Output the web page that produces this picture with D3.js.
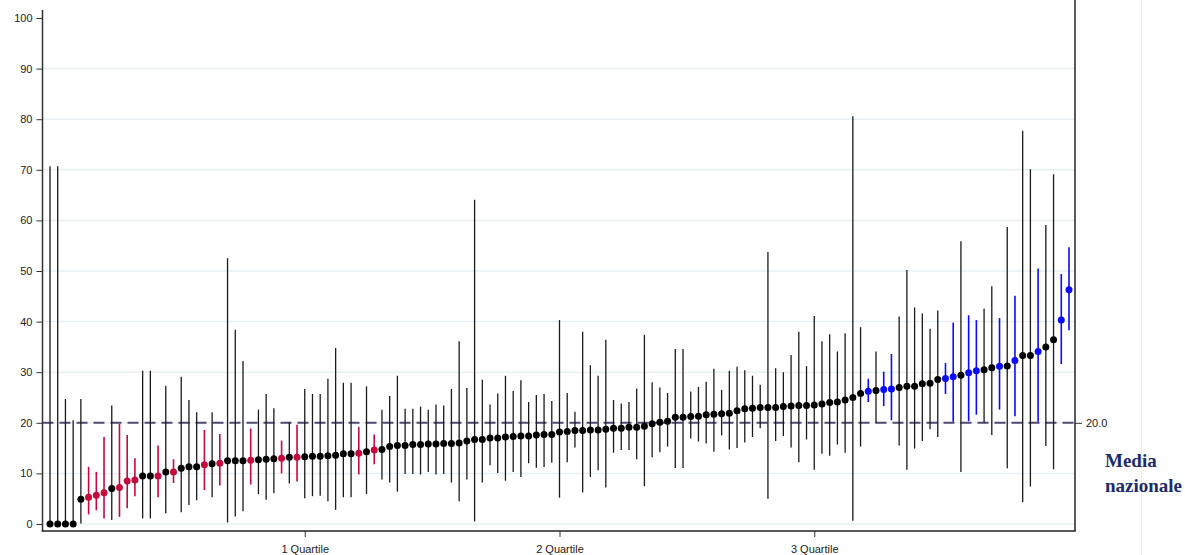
<!DOCTYPE html>
<html><head><meta charset="utf-8">
<script src="https://cdn.jsdelivr.net/npm/d3@7"></script>
<style>body{margin:0;background:#fff}svg{display:block}</style>
</head><body>
<svg id="c" width="1185" height="555"></svg>
<script>
// estimated rates (sorted), lower and upper CI bounds, group: k=non diverso, r=sotto media, b=sopra media
const values = [0,0,0,0,4.9,5.3,5.7,6.2,7.0,7.2,8.5,8.7,9.5,9.5,9.5,10.3,10.3,11.0,11.3,11.3,
 11.7,11.9,12.0,12.5,12.5,12.5,12.6,12.7,12.8,12.9,13.0,13.2,13.2,13.3,13.4,13.4,13.5,13.6,13.9,13.9,
 14.0,14.3,14.6,14.7,15.3,15.5,15.5,15.7,15.7,15.8,15.8,15.9,15.9,16.0,16.4,16.7,16.7,17.0,17.0,17.2,
 17.3,17.4,17.4,17.6,17.7,17.7,18.2,18.3,18.5,18.5,18.6,18.6,18.75,18.9,18.9,19.1,19.1,19.3,19.8,20.1,
 20.3,21.1,21.1,21.25,21.3,21.6,21.7,21.8,21.9,22.4,22.8,22.9,23.0,23.0,23.0,23.2,23.3,23.4,23.4,23.5,
 23.7,24.0,24.1,24.5,25.0,25.8,26.25,26.4,26.6,26.7,27.0,27.2,27.2,27.7,27.8,28.55,28.75,29.1,29.4,29.9,
 30.3,30.5,30.9,31.2,31.25,32.3,33.3,33.3,34.1,35.0,36.4,40.3,46.3];
const lower = [0,0,0,0,0.1,1.9,2.7,1.1,0.8,1.4,3.1,5.5,1.1,1.1,5.3,2.1,8.1,2.3,3.75,4.7,
 6.7,5.3,7.6,0.3,1.5,2.5,7.8,5.9,4.8,6.1,10.0,8.0,8.4,5.1,5.5,5.6,4.5,2.8,5.3,5.3,
 9.8,5.9,11.8,8.8,8.2,6.4,9.9,9.9,9.8,10.3,9.8,9.9,8.2,4.5,8.8,0.5,8.2,11.6,10.1,8.55,
 10.3,9.3,12.0,11.1,11.25,12.1,5.2,12.2,15.1,6.25,9.3,10.6,7.2,14.1,14.6,14.6,12.8,7.5,13.2,14.2,
 15.3,11.05,11.05,16.9,16.3,15.9,14.3,17.5,14.7,15.0,16.1,17.2,18.9,5.0,16.4,17.4,15.1,12.2,16.7,10.7,
 13.9,13.5,15.7,14.1,0.66,15.3,24.1,19.9,23.3,20.5,15.5,10.7,14.9,16.4,18.75,17.2,25.7,20.2,10.3,20.3,
 21.6,20.0,17.6,22.6,11.0,21.3,4.3,7.4,20.2,15.4,10.8,31.6,38.3];
const upper = [70.7,70.7,24.7,20.5,24.7,11.3,10.3,17.2,23.4,19.8,17.6,13.0,30.3,30.3,15.5,27.3,12.8,29.1,24.5,22.1,
 18.6,22.1,17.8,52.5,38.4,32.2,18.9,22.6,25.7,22.9,16.5,20.1,19.6,26.7,25.7,25.7,28.7,34.8,27.9,27.9,
 19.2,27.2,17.7,22.6,25.3,29.3,22.8,22.8,23.2,22.6,23.6,23.4,26.7,36.1,26.9,64.1,28.5,23.6,25.8,29.3,
 26.3,28.4,24.1,25.5,25.7,24.3,40.3,25.9,22.2,38.0,31.4,29.3,36.4,24.5,23.8,24.1,26.8,37.4,28.0,27.0,
 25.9,34.6,34.6,26.2,27.1,28.1,30.7,26.5,30.3,31.1,30.4,29.3,27.5,53.75,30.8,30.0,33.4,38.0,31.2,41.1,
 36.1,37.5,34.1,37.7,80.6,38.9,28.7,34.1,30.1,33.6,41.0,50.2,42.8,41.6,38.6,42.2,31.8,39.8,55.9,41.25,
 40.3,42.6,47.0,40.7,58.7,45.1,77.7,70.1,50.5,59.1,69.1,49.4,54.7];
const groups = [
 "k","k","k","k","k","r","r","r","k","r",
 "r","r","k","k","r","k","r","k","k","k",
 "r","k","r","k","k","k","r","k","k","k",
 "r","k","r","k","k","k","k","k","k","k",
 "r","k","r","k","k","k","k","k","k","k",
 "k","k","k","k","k","k","k","k","k","k",
 "k","k","k","k","k","k","k","k","k","k",
 "k","k","k","k","k","k","k","k","k","k",
 "k","k","k","k","k","k","k","k","k","k",
 "k","k","k","k","k","k","k","k","k","k",
 "k","k","k","k","k","k","b","k","b","b",
 "k","k","k","k","k","k","b","b","k","b",
 "b","k","k","b","k","b","k","k","b","k",
 "k","b","b"];
const yTicks = [0,10,20,30,40,50,60,70,80,90,100];
const xTickPos = [34,67,100];
const xTickLabels = ["1 Quartile","2 Quartile","3 Quartile"];
const nationalMean = 20.0;
const meanLabel = ["Media","nazionale"];

const svg = d3.select("#c");
const n = values.length;
const x = d3.scaleLinear().domain([1, n]).range([50, 1069]);
const y = d3.scaleLinear().domain([0, 100]).range([524, 18]);
const colors = {k:"#000000", r:"#c40a3c", b:"#0a0aff"};
const barColors = {k:"#1a1a1a", r:"#c40a3c", b:"#0a0aff"};
const left = 42.5, right = 1075, bottom = 531;
const font = "'Liberation Sans', Arial, sans-serif";

// faint vertical line at right
svg.append("line").attr("x1",1141.5).attr("x2",1141.5).attr("y1",0).attr("y2",555)
  .attr("stroke","#eceff1").attr("stroke-width",1);

// gridlines
svg.append("g").selectAll("line").data(yTicks.filter(d=>d<100)).join("line")
  .attr("x1",left).attr("x2",right).attr("y1",d=>y(d)).attr("y2",d=>y(d))
  .attr("stroke","#e9eff2").attr("stroke-width",1.5);

// national mean dashed line
svg.append("line").attr("x1",left).attr("x2",right).attr("y1",y(nationalMean)).attr("y2",y(nationalMean))
  .attr("stroke","#524a70").attr("stroke-width",2).attr("stroke-dasharray","11,6");

// error bars
const idx = d3.range(n);
svg.append("g").selectAll("line").data(idx).join("line")
  .attr("x1",i=>x(i+1)).attr("x2",i=>x(i+1))
  .attr("y1",i=>y(lower[i])).attr("y2",i=>y(upper[i]))
  .attr("stroke",i=>barColors[groups[i]]).attr("stroke-width",i=>groups[i]==="k"?1.3:1.6);

// points
svg.append("g").selectAll("circle").data(idx).join("circle")
  .attr("cx",i=>x(i+1)).attr("cy",i=>y(values[i])).attr("r",3.5)
  .attr("fill",i=>colors[groups[i]]);

// y axis
const yAxis = svg.append("g").attr("transform",`translate(${left},0)`)
  .call(d3.axisLeft(y).tickValues(yTicks).tickSize(6).tickPadding(4).tickFormat(d3.format("d")));
yAxis.select(".domain").remove();
yAxis.selectAll("text").attr("font-family",font).attr("font-size",11).attr("fill","#222");
yAxis.selectAll(".tick line").attr("stroke","#333");
svg.append("line").attr("x1",left).attr("x2",left).attr("y1",10).attr("y2",bottom+0.5)
  .attr("stroke","#333").attr("stroke-width",1.5);

// x axis
const xAxis = svg.append("g").attr("transform",`translate(0,${bottom})`)
  .call(d3.axisBottom(x).tickValues(xTickPos).tickSize(6).tickPadding(8)
    .tickFormat((d,i)=>xTickLabels[i]));
xAxis.select(".domain").remove();
xAxis.selectAll("text").attr("font-family",font).attr("font-size",11).attr("fill","#222");
xAxis.selectAll(".tick line").attr("stroke","#333");
svg.append("line").attr("x1",left-0.75).attr("x2",right+0.75).attr("y1",bottom).attr("y2",bottom)
  .attr("stroke","#222").attr("stroke-width",1.5);

// right frame with mean tick
svg.append("line").attr("x1",right).attr("x2",right).attr("y1",0).attr("y2",bottom)
  .attr("stroke","#222").attr("stroke-width",1.5);
const rAxis = svg.append("g").attr("transform",`translate(${right},0)`)
  .call(d3.axisRight(y).tickValues([nationalMean]).tickSize(7).tickPadding(4).tickFormat(d3.format(".1f")));
rAxis.select(".domain").remove();
rAxis.selectAll("text").attr("font-family",font).attr("font-size",11).attr("fill","#222");
rAxis.selectAll(".tick line").attr("stroke","#333");

// label
svg.append("text").attr("x",1105).attr("font-family","'Liberation Serif','Times New Roman',serif")
  .attr("font-weight","bold").attr("font-size",19).attr("fill","#1c2c6a")
  .selectAll("tspan").data(meanLabel).join("tspan")
  .attr("x",1105).attr("y",(d,i)=>467+i*25).text(d=>d);
</script>
</body></html>
